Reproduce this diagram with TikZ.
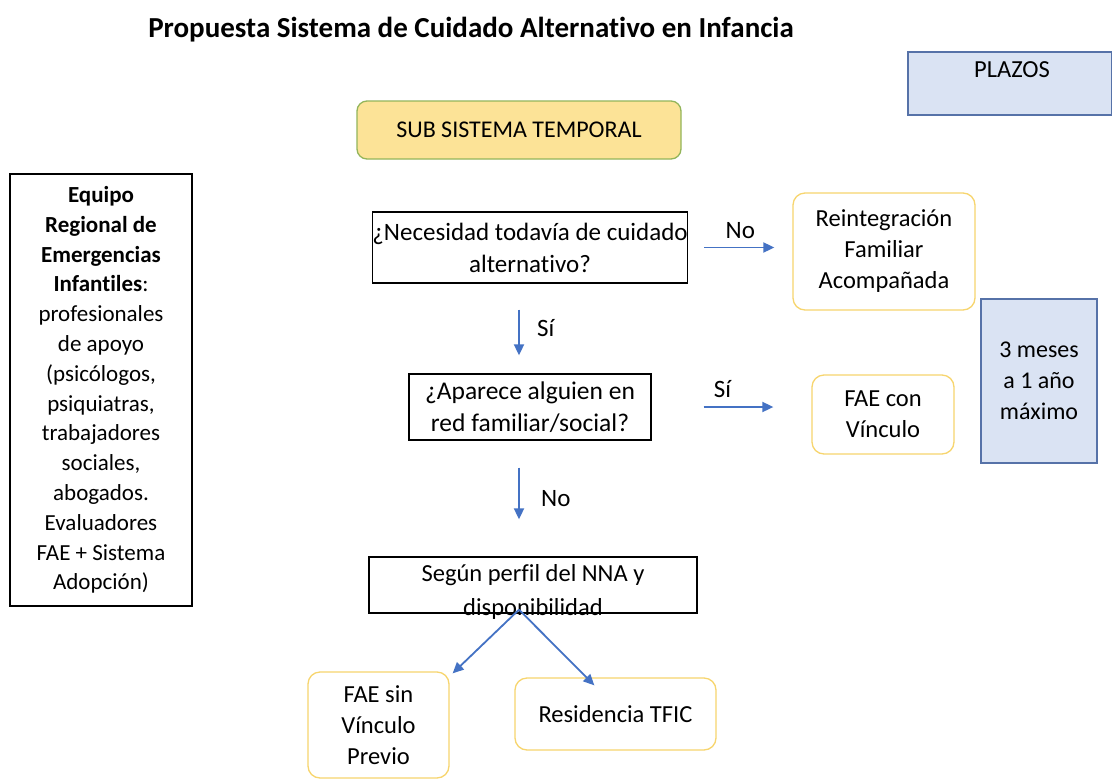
\documentclass[tikz,border=0pt]{standalone}
\usepackage{fontspec}
\setmainfont{Carlito}[Ligatures=NoCommon]
\usetikzlibrary{arrows.meta}

\definecolor{flecha}{HTML}{4472C4}
\definecolor{oro}{HTML}{F7D56E}
\definecolor{amarillo}{HTML}{FCE397}
\definecolor{verde}{HTML}{93B55A}
\definecolor{celeste}{HTML}{DAE3F3}
\definecolor{azul}{HTML}{5672A8}

\tikzset{
  pregunta/.style={draw=black, line width=1.3pt, align=center, inner sep=0pt, font=\fontsize{25.5}{32}\selectfont},
  opcion/.style={draw=oro, line width=1.3pt, rounded corners=12pt, align=center, inner sep=0pt},
  plazo/.style={draw=azul, fill=celeste, line width=1.3pt, align=center, inner sep=0pt},
  flujo/.style={draw=flecha, line width=1.8pt, -{Triangle[length=11pt,width=10pt]}},
  rotulo/.style={font=\fontsize{25}{30}\selectfont}
}

\begin{document}
\begin{tikzpicture}[x=1pt, y=-1pt, font=\fontsize{24.5}{31}\selectfont]
\useasboundingbox[fill=white] (0,0) rectangle (1112,780);

\node[font=\fontsize{29}{32}\selectfont\bfseries] (titulo) at (471,30) {Propuesta Sistema de Cuidado Alternativo en Infancia};

\node[plazo, minimum width=204pt, minimum height=63pt] (plazos) at (1010,83.5) {};
\node (plazostxt) at (1012,70) {PLAZOS};

\node[draw=verde, fill=amarillo, line width=1.3pt, rounded corners=10pt, minimum width=324pt, minimum height=58pt, font=\fontsize{24}{30}\selectfont] (sub) at (519,130) {SUB SISTEMA TEMPORAL};

\node[pregunta, minimum width=182pt, minimum height=432pt, font=\fontsize{23}{29.8}\selectfont] (equipo) at (101,390)
  {\textbf{Equipo}\\ \textbf{Regional de}\\ \textbf{Emergencias}\\ \textbf{Infantiles}:\\ profesionales\\ de apoyo\\ (psicólogos,\\ psiquiatras,\\ trabajadores\\ sociales,\\ abogados.\\ Evaluadores\\ FAE + Sistema\\ Adopción)};

\node[pregunta, minimum width=314pt, minimum height=71pt, font=\fontsize{25}{32}\selectfont] (necesidad) at (530,247.5) {¿Necesidad todavía de cuidado\\ alternativo?};
\node[opcion, minimum width=182pt, minimum height=117pt] (reintegracion) at (884,251.5) {Reintegración\\ Familiar\\ Acompañada};

\node[pregunta, minimum width=242pt, minimum height=66pt] (aparece) at (530,407) {¿Aparece alguien en\\ red familiar/social?};
\node[opcion, minimum width=142pt, minimum height=79pt] (faecon) at (883,414.5) {FAE con\\ Vínculo};

\node[plazo, minimum width=116pt, minimum height=164pt, font=\fontsize{24}{31}\selectfont] (meses) at (1039,381) {3 meses\\ a 1 año\\ máximo};

\node[pregunta, minimum width=328pt, minimum height=56pt] (perfil) at (533,585) {};
\node[align=center, font=\fontsize{24.5}{34}\selectfont] (perfiltxt) at (533,592) {Según perfil del NNA y\\ disponibilidad};

\node[opcion, minimum width=141pt, minimum height=106pt] (faesin) at (378.5,725) {FAE sin\\ Vínculo\\ Previo};
\node[opcion, minimum width=201pt, minimum height=72pt] (residencia) at (615.5,714) {Residencia TFIC};

\draw[flujo, shorten <=16pt, shorten >=18pt] (necesidad.east) -- (necesidad.east -| reintegracion.west)
  node[midway, above=5pt, rotulo] {No};
\draw[flujo, shorten <=26pt, shorten >=18pt] (necesidad.south -| sub.south) -- (aparece.north -| sub.south)
  node[midway, right=14pt, rotulo] {Sí};
\draw[flujo, shorten <=52pt, shorten >=38pt] (aparece.east) -- (aparece.east -| faecon.west)
  node[midway, above=5pt, xshift=-9pt, rotulo] {Sí};
\draw[flujo, shorten <=27pt, shorten >=37pt] (aparece.south -| sub.south) -- (perfil.north -| sub.south)
  node[midway, right=18pt, rotulo] {No};

\coordinate (reparto) at ([yshift=4pt]perfil.south -| sub.south);
\draw[flujo] (reparto) -- ([shift={(3pt,-2pt)}]faesin.north east);
\draw[flujo] (reparto) -- ([shift={(80pt,-8pt)}]residencia.north west);
\end{tikzpicture}
\end{document}
